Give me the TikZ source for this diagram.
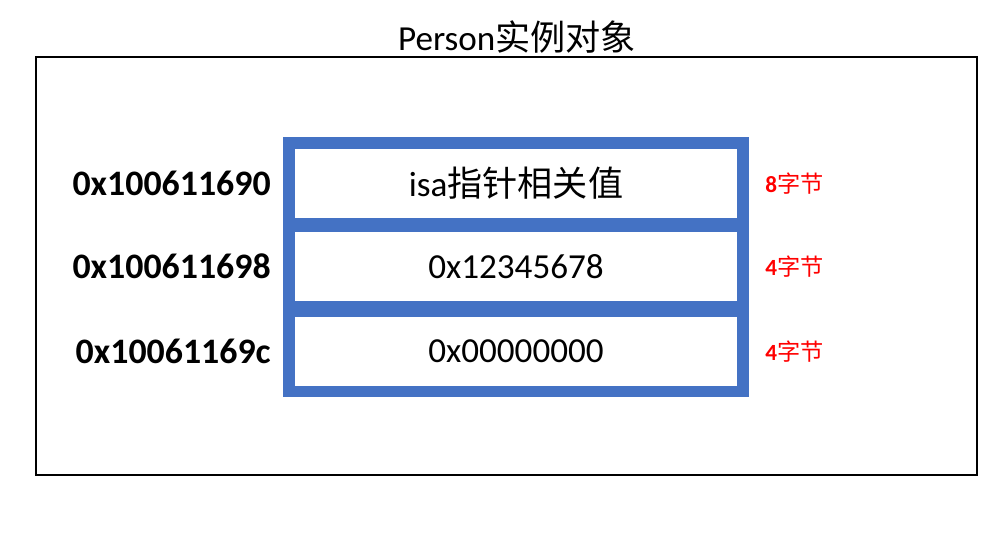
\documentclass[tikz,border=0pt]{standalone}
\usepackage{fontspec}
\setmainfont{Carlito}
\newfontfamily\cjk{Noto Sans CJK SC}
\usetikzlibrary{positioning}
\definecolor{memblue}{HTML}{4472C4}
\definecolor{sizered}{HTML}{FF0000}

\begin{document}
\begin{tikzpicture}[x=0.02cm,y=-0.02cm,
    cell/.style={fill=white,minimum width=8.84cm,minimum height=1.38cm,inner sep=0pt,outer sep=0pt,font=\fontsize{20}{24}\selectfont},
    addr/.style={inner sep=0pt,anchor=east,font=\fontsize{20.4}{24}\selectfont\bfseries},
    size/.style={inner sep=0pt,anchor=west,text=sizered,font=\fontsize{13.2}{15}\selectfont}]
  \useasboundingbox (0,0) rectangle (1000,556);
  \node (title) at (517,37) {\fontsize{20}{24}\selectfont Person{\cjk 实例对象}};
  \draw[line width=1.1pt] (36,57) rectangle (977,475);
  \fill[memblue] (283,137) rectangle (749,397);
  \node (isa) [cell] at (516,183.5) {isa{\cjk 指针相关值}};
  \node (ivara) [cell] at (516,266.5) {0x12345678};
  \node (ivarb) [cell] at (516,351.5) {0x00000000};
  \node (addra) [addr,left=0.48cm of isa] {0x100611690};
  \node (addrb) [addr,left=0.48cm of ivara] {0x100611698};
  \node (addrc) [addr,left=0.48cm of ivarb] {0x10061169c};
  \node (sizea) [size,right=0.56cm of isa] {\textbf{8}{\cjk 字节}};
  \node (sizeb) [size,right=0.56cm of ivara] {\textbf{4}{\cjk 字节}};
  \node (sizec) [size,right=0.56cm of ivarb] {\textbf{4}{\cjk 字节}};
\end{tikzpicture}
\end{document}
